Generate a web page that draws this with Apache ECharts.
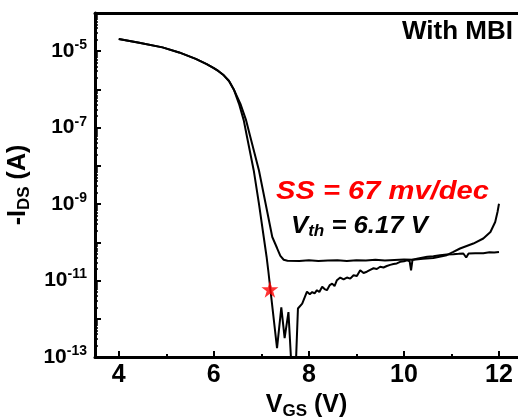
<!DOCTYPE html>
<html>
<head>
<meta charset="utf-8">
<script src="https://cdn.jsdelivr.net/npm/echarts@6/dist/echarts.min.js"></script>
<style>
  html, body { margin: 0; padding: 0; background: #fff; }
  #chart { width: 518px; height: 419px; }
</style>
</head>
<body>
<div id="chart"></div>
<script>
// Transfer characteristics (-I_DS vs V_GS), two sweeps of the same device.
// Sweep 1: settles onto a flat off-current floor and rises again near 12 V.
const vgsSweep1 = [4.00, 4.43, 4.92, 5.27, 5.62, 5.85, 6.00, 6.10, 6.21, 6.32, 6.42, 6.56, 6.68, 6.77,
  6.95, 7.09, 7.23, 7.33, 7.40, 7.47, 7.55, 7.80, 8.00, 8.20, 8.40, 8.60, 8.80, 9.00,
  9.20, 9.40, 9.60, 9.80, 10.00, 10.20, 10.40, 10.62, 10.90, 11.04, 11.18, 11.46, 11.67,
  11.82, 11.92, 11.97, 12.00];
const idsSweep1 = [2.09e-5, 1.66e-5, 1.26e-5, 9.3e-6, 6.3e-6, 4.6e-6, 3.6e-6, 3.0e-6, 2.34e-6,
  1.66e-6, 1.0e-6, 4.2e-7, 1.55e-7, 5.6e-8, 7.6e-9, 1.02e-9, 1.38e-10, 7.1e-11, 4.4e-11, 3.5e-11,
  3.3e-11, 3.25e-11, 3.4e-11, 3.25e-11, 3.35e-11, 3.4e-11, 3.25e-11, 3.4e-11, 3.35e-11, 3.5e-11,
  3.35e-11, 3.45e-11, 3.55e-11, 3.5e-11, 3.7e-11, 3.9e-11, 4.6e-11, 5.6e-11, 6.9e-11, 9.3e-11,
  1.26e-10, 1.86e-10, 3.4e-10, 6.3e-10, 1.02e-9];

// Sweep 2: steeper turn-off with a noisy floor that slowly climbs.
const vgsSweep2 = [4.00, 4.43, 4.92, 5.27, 5.62, 5.85, 6.00, 6.10, 6.21, 6.32, 6.42, 6.53, 6.63, 6.70,
  6.84, 6.95, 7.05, 7.11, 7.145, 7.19, 7.33, 7.42, 7.49, 7.57, 7.64, 7.72, 7.77, 7.86, 7.96,
  8.02, 8.07, 8.12, 8.17, 8.22, 8.28, 8.33, 8.38, 8.44, 8.49, 8.54, 8.59, 8.66, 8.73, 8.80,
  8.87, 8.94, 9.01, 9.08, 9.15, 9.22, 9.29, 9.36, 9.43, 9.50, 9.57, 9.64, 9.71, 9.78, 9.85,
  9.92, 10.00, 10.07, 10.12, 10.15, 10.18, 10.30, 10.49, 10.62, 10.76, 10.90, 11.04, 11.15,
  11.25, 11.31, 11.36, 11.50, 11.67, 11.80, 11.90, 12.00];
const idsSweep2 = [2.09e-5, 1.66e-5, 1.26e-5, 9.3e-6, 6.3e-6, 4.6e-6, 3.6e-6, 3.0e-6, 2.34e-6,
  1.66e-6, 1.0e-6, 4.2e-7, 1.55e-7, 5.6e-8, 7.6e-9, 1.02e-9, 1.38e-10, 4.2e-11, 1.86e-11, 5.9e-12,
  1.7e-13, 2.0e-12, 3.1e-13, 1.5e-12, 4e-14, 4e-14, 1.86e-12, 2.5e-12, 5.1e-12, 4.4e-12, 5.0e-12,
  4.6e-12, 5.6e-12, 5.0e-12, 6.9e-12, 6.0e-12, 5.6e-12, 7.6e-12, 8.3e-12, 7.2e-12, 1.02e-11,
  1.2e-11, 1.07e-11, 1.2e-11, 1.12e-11, 1.38e-11, 1.32e-11, 1.86e-11, 1.58e-11, 1.7e-11,
  1.9e-11, 2.1e-11, 2.0e-11, 2.3e-11, 2.2e-11, 2.4e-11, 2.57e-11, 2.7e-11, 2.8e-11, 3.1e-11,
  3.2e-11, 3.4e-11, 3.2e-11, 1.86e-11, 3.5e-11, 3.8e-11, 4.2e-11, 4.3e-11, 4.6e-11, 4.8e-11,
  4.9e-11, 5.0e-11, 5.1e-11, 4.0e-11, 5.1e-11, 5.2e-11, 5.2e-11, 5.5e-11, 5.4e-11, 5.6e-11];

// Operating point marked with a star on the subthreshold slope.
const markVgs = 7.18;
const markIds = 5.9e-12;

// Axis ticks and labels
const xRange = [3.5, 12.4];
const xTickValues = [4, 6, 8, 10, 12];
const xMinorTickValues = [5, 7, 9, 11];
const yRange = [1e-13, 1e-4];
const yLabelExponents = [-13, -11, -9, -7, -5];
const yDecades = [-13, -12, -11, -10, -9, -8, -7, -6, -5];

const FONT = '"Liberation Sans", Arial, Helvetica, sans-serif';

const zip = (xs, ys) => xs.map((x, i) => [x, ys[i]]);

// minor log ticks (2..9 of each decade), expressed as exponents
const yMinorTicks = [];
yDecades.forEach(d => {
  for (let k = 2; k <= 9; k++) yMinorTicks.push(d + Math.log10(k));
});

const starPath = 'path://M50,0 L61.2,34.5 L97.6,34.5 L68.2,55.9 L79.4,90.5 L50,69.1 L20.6,90.5 L31.8,55.9 L2.4,34.5 L38.8,34.5 Z';

const chart = echarts.init(document.getElementById('chart'), null, { renderer: 'canvas' });

const boldText = (size, extra) => Object.assign({
  fontFamily: FONT, fontWeight: 'bold', fontSize: size, color: '#000'
}, extra || {});

const italicRich = (size, extra) => Object.assign({
  fontFamily: FONT, fontWeight: 'bold', fontStyle: 'italic', fontSize: size, fill: '#000'
}, extra || {});

chart.setOption({
  animation: false,
  backgroundColor: '#fff',
  grid: { left: 95, right: 0, top: 13, bottom: 62, containLabel: false, outerBoundsMode: 'none' },
  xAxis: [
    {
      type: 'value', position: 'bottom', min: xRange[0], max: xRange[1],
      axisLine: { show: true, onZero: false, lineStyle: { color: '#000', width: 3 } },
      axisTick: { show: true, inside: true, length: 6, customValues: xTickValues,
        lineStyle: { color: '#000', width: 2 } },
      axisLabel: { show: true, customValues: xTickValues, margin: 6,
        fontFamily: FONT, fontWeight: 'bold', fontSize: 25, color: '#000' },
      splitLine: { show: false },
      name: '{n|V}{s|GS}{n| (V)}',
      nameLocation: 'middle', nameGap: 34,
      nameTextStyle: {
        rich: {
          n: boldText(25),
          s: boldText(17, { padding: [12, 0, 0, 0] })
        }
      }
    },
    {
      type: 'value', position: 'bottom', min: xRange[0], max: xRange[1],
      axisLine: { show: false },
      axisTick: { show: true, inside: true, length: 3, customValues: xMinorTickValues,
        lineStyle: { color: '#000', width: 2 } },
      axisLabel: { show: false },
      splitLine: { show: false }
    },
    {
      type: 'value', position: 'top', min: xRange[0], max: xRange[1],
      axisLine: { show: true, onZero: false, lineStyle: { color: '#000', width: 3 } },
      axisTick: { show: false },
      axisLabel: { show: false },
      splitLine: { show: false }
    }
  ],
  yAxis: [
    {
      type: 'log', logBase: 10, min: yRange[0], max: yRange[1], splitNumber: 10,
      position: 'left',
      axisLine: { show: true, onZero: false, lineStyle: { color: '#000', width: 3 } },
      axisTick: { show: true, inside: true, length: 6, lineStyle: { color: '#000', width: 2 } },
      axisLabel: {
        show: true, margin: 8,
        formatter: function (v) {
          const e = Math.round(Math.log10(v));
          return yLabelExponents.indexOf(e) >= 0 ? '{n|10}{e|' + e + '}' : '';
        },
        rich: {
          n: boldText(21),
          e: boldText(14, { padding: [0, 0, 12, 0] })
        }
      },
      splitLine: { show: false },
      name: '{n|-I}{s|DS}{n| (A)}',
      nameLocation: 'middle', nameGap: 60,
      nameTextStyle: {
        rich: {
          n: boldText(25),
          s: boldText(17, { padding: [12, 0, 0, 0] })
        }
      }
    },
    {
      type: 'value', position: 'left', min: -13, max: -4,
      axisLine: { show: false },
      axisTick: { show: true, inside: true, length: 3, customValues: yMinorTicks,
        lineStyle: { color: '#000', width: 1.5 } },
      axisLabel: { show: false },
      splitLine: { show: false }
    }
  ],
  series: [
    {
      type: 'line', xAxisIndex: 0, yAxisIndex: 0,
      data: zip(vgsSweep1, idsSweep1),
      showSymbol: false, symbol: 'none', smooth: false,
      lineStyle: { color: '#000', width: 2 }
    },
    {
      type: 'line', xAxisIndex: 0, yAxisIndex: 0,
      data: zip(vgsSweep2, idsSweep2),
      showSymbol: false, symbol: 'none', smooth: false,
      lineStyle: { color: '#000', width: 2 }
    },
    {
      type: 'scatter', xAxisIndex: 0, yAxisIndex: 0,
      data: [[markVgs, markIds]],
      symbol: starPath, symbolSize: 17,
      itemStyle: { color: '#ff0000' },
      z: 5
    }
  ],
  graphic: [
    {
      type: 'text', right: 5, top: 19,
      style: { text: 'With MBI', font: 'bold 26px ' + FONT, fill: '#000' }
    },
    {
      type: 'text', left: 276, top: 179, scaleX: 1.12,
      style: { text: 'SS = 67 mv/dec', font: 'italic bold 26px ' + FONT, fill: '#ff0000' }
    },
    {
      type: 'text', left: 291, top: 214, scaleX: 1.07,
      style: {
        text: '{v|V}{s|th}{v| = 6.17 V}',
        rich: {
          v: italicRich(24),
          s: italicRich(16, { padding: [12, 0, 0, 0] })
        }
      }
    }
  ]
});
</script>
</body>
</html>
